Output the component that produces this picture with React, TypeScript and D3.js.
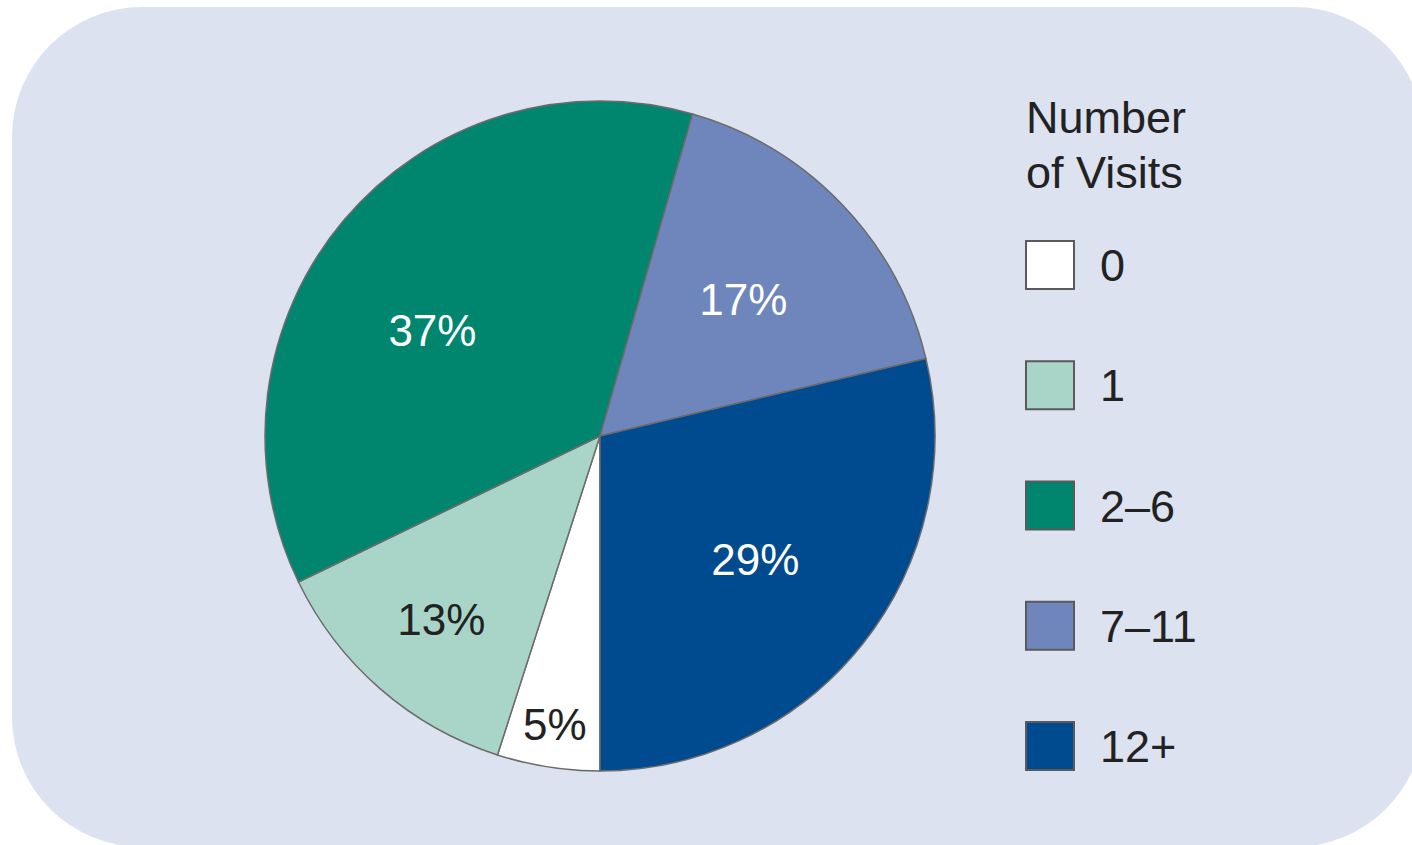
import React, { useEffect, useRef } from 'react';
import * as d3 from 'd3';

const categories = ['0', '1', '2–6', '7–11', '12+'];
const shares = [5, 13, 37, 17, 29];
const colors = ['#ffffff', '#a9d5c9', '#00856e', '#6e86bb', '#004a8f'];
const labelColors = ['#222222', '#222222', '#ffffff', '#ffffff', '#ffffff'];
const legendTitle = ['Number', 'of Visits'];

function App() {
	const ref = useRef(null);

	useEffect(() => {
		const w = 1412;
		const h = 845;
		const svg = d3.select(ref.current)
			.attr('width', w)
			.attr('height', h)
			.style('position', 'absolute')
			.style('left', 0)
			.style('top', 0)
			.style('font-family', '"Liberation Sans", Arial, sans-serif');
		svg.selectAll('*').remove();

		// panel
		svg.append('rect')
			.attr('x', 12)
			.attr('y', 7)
			.attr('width', 1412)
			.attr('height', 840)
			.attr('rx', 130)
			.attr('fill', '#dce2ef');

		const cx = 600;
		const cy = 436;
		const r = 335;

		const data = categories.map((c, i) => ({ cat: c, value: shares[i], i }));
		const pie = d3.pie<any>()
			.sort(null)
			.value((d: any) => d.value)
			.startAngle(Math.PI)
			.endAngle(3 * Math.PI);
		const arcs = pie(data);
		const arc = d3.arc<any>().innerRadius(0).outerRadius(r);

		const g = svg.append('g').attr('transform', `translate(${cx},${cy})`);
		g.selectAll('path.slice')
			.data(arcs)
			.join('path')
			.attr('class', 'slice')
			.attr('d', arc)
			.attr('fill', (d: any) => colors[d.data.i])
			.attr('stroke', '#6b6b6b')
			.attr('stroke-width', 1.5);

		// small slices get their label pushed outwards, the big one sits a bit lower
		const labelR = (v: number) => (v < 10 ? 292 : v < 15 ? 242 : 198);
		const labelT = (v: number) => (v > 35 ? 0.44 : 0.5);
		g.selectAll('text.pct')
			.data(arcs)
			.join('text')
			.attr('class', 'pct')
			.attr('transform', (d: any) => {
				const a = d.startAngle + (d.endAngle - d.startAngle) * labelT(d.data.value);
				const rr = labelR(d.data.value);
				return `translate(${rr * Math.sin(a)},${-rr * Math.cos(a)})`;
			})
			.attr('text-anchor', 'middle')
			.attr('dy', '0.36em')
			.attr('font-size', 44)
			.attr('fill', (d: any) => labelColors[d.data.i])
			.text((d: any) => `${d.data.value}%`);

		// legend
		const lg = svg.append('g').attr('transform', 'translate(1026,0)');
		lg.selectAll('text.title')
			.data(legendTitle)
			.join('text')
			.attr('class', 'title')
			.attr('x', 0)
			.attr('y', (d, i) => 133 + i * 55)
			.attr('font-size', 45)
			.attr('fill', '#222')
			.text(d => d);

		const y = d3.scalePoint().domain(categories).range([265, 746]);
		const items = lg.selectAll('g.item')
			.data(categories)
			.join('g')
			.attr('class', 'item')
			.attr('transform', d => `translate(0,${y(d)})`);
		items.append('rect')
			.attr('x', 0)
			.attr('y', -24)
			.attr('width', 48)
			.attr('height', 48)
			.attr('fill', (d, i) => colors[i])
			.attr('stroke', '#5a5a5a')
			.attr('stroke-width', 2);
		items.append('text')
			.attr('x', 74)
			.attr('dy', '0.36em')
			.attr('font-size', 45)
			.attr('fill', '#222')
			.text(d => d);
	}, []);

	return (
		<div>
			<svg ref={ref} />
		</div>
	);
}

export default App;
